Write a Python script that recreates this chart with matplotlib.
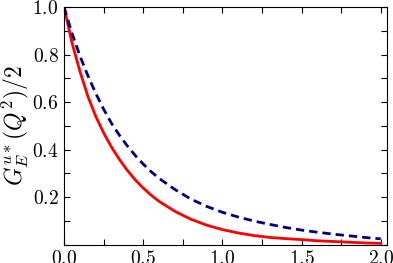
import matplotlib
matplotlib.use('Agg')
import matplotlib.pyplot as plt
from matplotlib.ticker import MultipleLocator

plt.rcParams['font.family'] = 'serif'
plt.rcParams['font.serif'] = ['cmr10']
plt.rcParams['mathtext.fontset'] = 'cm'
plt.rcParams['axes.formatter.use_mathtext'] = True

# Q^2 values and the two form-factor curves
q2 = [0.0, 0.05, 0.1, 0.15, 0.2, 0.25, 0.3, 0.35, 0.4, 0.45, 0.5, 0.55,
      0.6, 0.7, 0.8, 0.9, 1.0, 1.1, 1.2, 1.3, 1.4, 1.5, 1.6, 1.7, 1.8,
      1.9, 2.0]
ge_red = [1.0, 0.85, 0.73, 0.625, 0.54, 0.47, 0.41, 0.358, 0.312, 0.272,
          0.238, 0.208, 0.182, 0.14, 0.107, 0.082, 0.063, 0.049, 0.038,
          0.03, 0.025, 0.021, 0.016, 0.013, 0.01, 0.007, 0.005]
ge_blue = [1.0, 0.89, 0.795, 0.712, 0.637, 0.57, 0.51, 0.46, 0.415,
           0.375, 0.339, 0.307, 0.279, 0.232, 0.192, 0.161, 0.136, 0.116,
           0.099, 0.085, 0.072, 0.061, 0.052, 0.044, 0.037, 0.03, 0.024]

fig = plt.figure(figsize=(3.93, 2.63), dpi=100)
ax = fig.add_axes([0.163, 0.070, 0.822, 0.903])

ax.plot(q2, ge_red, color='#ff0000', lw=2.0)
ax.plot(q2, ge_blue, color='#000080', lw=2.0, ls=(0, (3.0, 1.8)))

ax.set_xlim(0, 2.04)
ax.set_ylim(0, 1.0)
ax.xaxis.set_major_locator(MultipleLocator(0.5))
ax.xaxis.set_minor_locator(MultipleLocator(0.25))
ax.yaxis.set_major_locator(MultipleLocator(0.2))
ax.yaxis.set_minor_locator(MultipleLocator(0.1))
ax.set_yticks([0.2, 0.4, 0.6, 0.8, 1.0])
ax.tick_params(which='both', direction='in', top=True, right=True,
               length=4.5, width=0.8, labelsize=14, pad=4)
ax.set_ylabel(r'$G_E^{u*}(Q^2)/2$', fontsize=17, labelpad=1)

fig.savefig('out.png', dpi=100)
